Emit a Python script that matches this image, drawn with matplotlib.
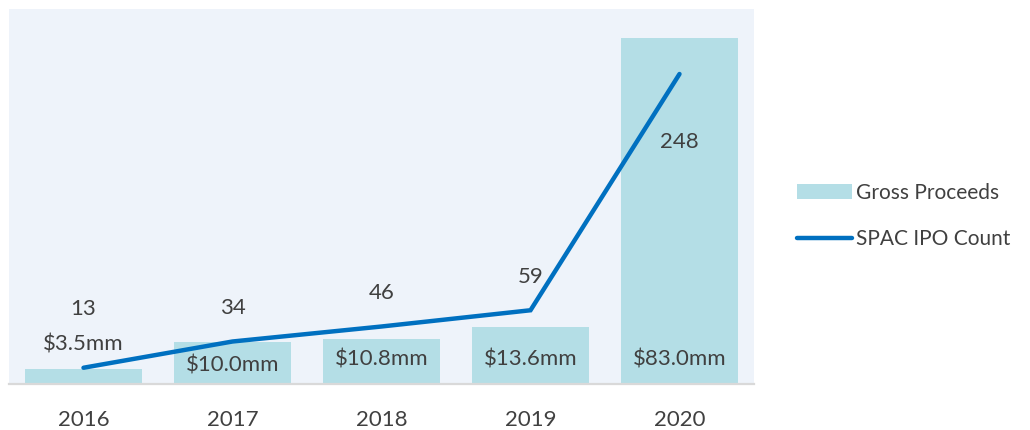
import matplotlib.pyplot as plt
from matplotlib.patches import Patch
from matplotlib.lines import Line2D

years = ['2016', '2017', '2018', '2019', '2020']
proceeds = [3.5, 10.0, 10.8, 13.6, 83.0]
proceeds_labels = ['$3.5mm', '$10.0mm', '$10.8mm', '$13.6mm', '$83.0mm']
ipo_count = [13, 34, 46, 59, 248]

bar_color = '#B4DEE6'
line_color = '#0070C0'
text_color = '#404040'
bg_color = '#EEF3FA'

plt.rcParams['font.family'] = ['Lato', 'DejaVu Sans']

fig = plt.figure(figsize=(10.3, 4.3), dpi=100)
ax = fig.add_axes([9 / 1030, 46 / 430, 745 / 1030, 375 / 430])
ax.set_facecolor(bg_color)

x = list(range(len(years)))
ax.bar(x, proceeds, width=0.785, color=bar_color, zorder=2)
ax.set_xlim(-0.5, len(years) - 0.5)
ax.set_ylim(0, 90)
ax.set_yticks([])
ax.set_xticks(x)
ax.set_xticklabels(years, fontsize=16, color=text_color)
ax.tick_params(axis='x', length=0, pad=19)
for s in ['top', 'left', 'right']:
    ax.spines[s].set_visible(False)
ax.spines['bottom'].set_color('#D9D9D9')
ax.spines['bottom'].set_linewidth(1.6)

# bar labels, offset in points (first one sits above its bar, the rest near the base)
bar_label_off = [18, 13, 18, 18, 18]
for i, lab in enumerate(proceeds_labels):
    base = proceeds[i] if i == 0 else 0
    ax.annotate(lab, (x[i], base), xytext=(0, bar_label_off[i]),
                textcoords='offset points', ha='center', va='center',
                fontsize=16, color=text_color, zorder=5)

ax2 = ax.twinx()
ax2.set_ylim(0, 300)
ax2.set_yticks([])
for s in ax2.spines.values():
    s.set_visible(False)
ax2.plot(x, ipo_count, color=line_color, lw=3.2, solid_capstyle='round',
         solid_joinstyle='miter', zorder=3)

count_off = [42, 24, 24, 24, -49]
for i, v in enumerate(ipo_count):
    ax2.annotate(str(v), (x[i], v), xytext=(0, count_off[i]),
                 textcoords='offset points', ha='center', va='center',
                 fontsize=16, color=text_color)

handles = [Patch(facecolor=bar_color, edgecolor='none'),
           Line2D([0], [0], color=line_color, lw=3.2, solid_capstyle='round')]
fig.legend(handles, ['Gross Proceeds', 'SPAC IPO Count'], loc='center left',
           bbox_to_anchor=(797 / 1030, 1 - 216 / 430), frameon=False,
           borderpad=0, borderaxespad=0,
           fontsize=15, labelcolor=text_color, handlelength=2.65,
           handletextpad=0.2, labelspacing=1.25)

fig.savefig('out.png', dpi=100, facecolor='white')
